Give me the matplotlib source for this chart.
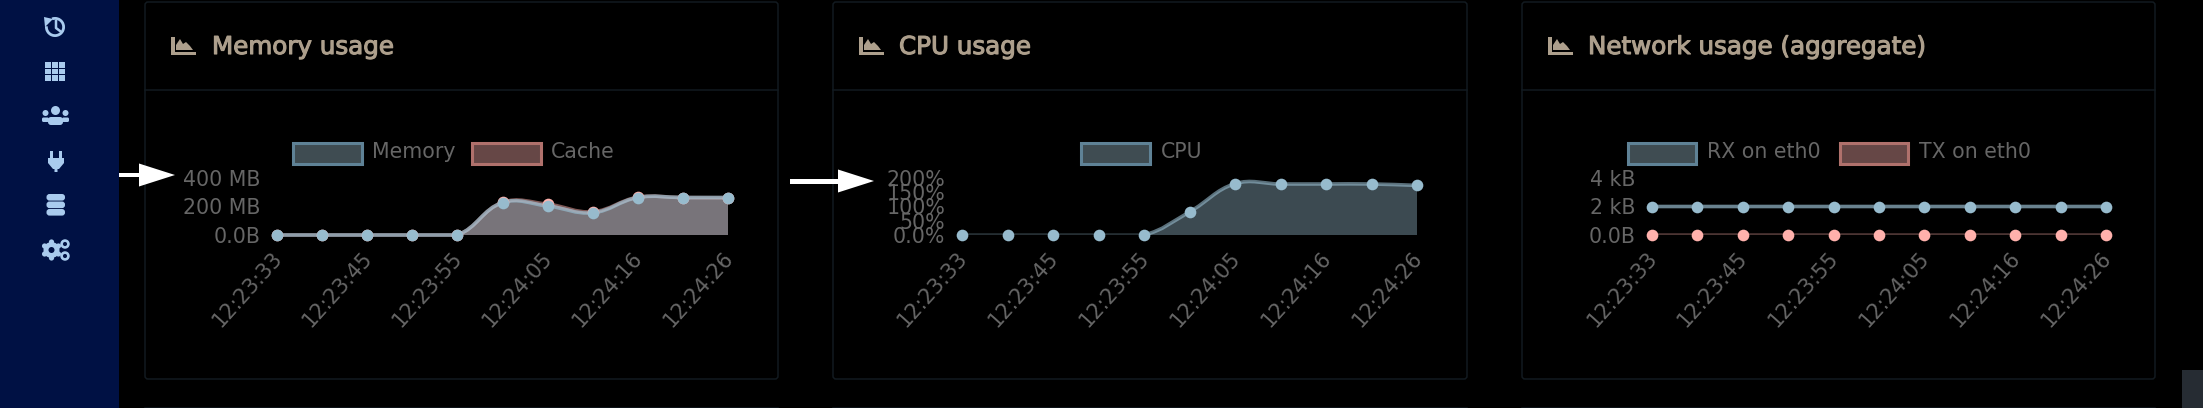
import matplotlib
matplotlib.use('Agg')
import matplotlib.pyplot as plt
import numpy as np
from matplotlib.patches import Circle, FancyBboxPatch, Polygon, Rectangle, Wedge, PathPatch
from matplotlib.path import Path
from matplotlib.transforms import ScaledTranslation
import matplotlib.patheffects as pe

W, H = 2203, 408

x_labels = ['12:23:33', '12:23:45', '12:23:55', '12:24:05', '12:24:16', '12:24:26']

memory = [0, 0, 0, 0, 0, 227, 204, 156, 263, 263, 263]
cache = [0, 0, 0, 0, 0, 229, 216, 163, 265, 263, 262]
cpu = [0, 0, 0, 0, 0, 81, 180, 179, 179, 179, 174]
rx = [2, 2, 2, 2, 2, 2, 2, 2, 2, 2, 2]
tx = [0, 0, 0, 0, 0, 0, 0, 0, 0, 0, 0]

mem_ticks = [0, 200, 400]
mem_ticklabels = ['0.0B', '200 MB', '400 MB']
cpu_ticks = [0, 50, 100, 150, 200]
cpu_ticklabels = ['0.0%', '50%', '100%', '150%', '200%']
net_ticks = [0, 2, 4]
net_ticklabels = ['0.0B', '2 kB', '4 kB']

BLUE = '#97BBCD'
RED = '#FFB1AC'
TEXT = '#666666'
TITLE = '#AD9F8C'
BORDER = '#121A20'
ICON = '#A9CBEE'

plt.rcParams['font.family'] = 'DejaVu Sans'
fig = plt.figure(figsize=(W / 100, H / 100), dpi=100, facecolor='black')

# everything that is not a chart is drawn in plain pixel coordinates
bg = fig.add_axes([0, 0, 1, 1])
bg.set_xlim(0, W)
bg.set_ylim(H, 0)
bg.axis('off')

bg.add_patch(Rectangle((0, 0), 119, H, fc='#001144', ec='none'))
bg.add_patch(Rectangle((2182, 370), 21, 38, fc='#262C33', ec='none'))


def panel(x0, x1, title, title_x, icon_x):
    bg.add_patch(FancyBboxPatch((x0 + 3, 5), x1 - x0 - 6, 371, boxstyle='round,pad=3,rounding_size=3',
                                fc='none', ec=BORDER, lw=1.1))
    bg.plot([x0, x1], [90, 90], color=BORDER, lw=1.1)
    bg.plot([x0, x1], [407.5, 407.5], color=BORDER, lw=1.1)
    t = bg.text(title_x, 54, title, color=TITLE, fontsize=17.7, ha='left', va='baseline')
    t.set_path_effects([pe.withStroke(linewidth=0.8, foreground=TITLE)])
    # area chart icon
    bg.add_patch(Rectangle((icon_x, 37), 3.5, 18, fc=TITLE, ec='none'))
    bg.add_patch(Rectangle((icon_x, 51.5), 25, 3.5, fc=TITLE, ec='none'))
    bg.add_patch(Polygon([(icon_x + 5, 50), (icon_x + 5, 45), (icon_x + 9, 39), (icon_x + 12, 44),
                          (icon_x + 15, 42), (icon_x + 19, 46), (icon_x + 22, 50)], fc=TITLE, ec='none'))


def legend_item(x0, x1, text_x, label, edge, fill):
    bg.add_patch(Rectangle((x0 + 1.5, 142.5), x1 - x0 - 3, 21, fc=fill, ec=edge, lw=2.2))
    bg.text(text_x, 152, label, color=TEXT, fontsize=14.8, ha='left', va='center')


def arrow(x0, x1, x2, y, half, thick):
    bg.add_patch(Rectangle((x0, y - thick / 2), x1 - x0, thick, fc='white', ec='none'))
    bg.add_patch(Polygon([(x1, y - half), (x2, y), (x1, y + half)], fc='white', ec='none'))


def sidebar_icons():
    # history
    bg.add_patch(Wedge((55, 27), 10, 250, 545, width=2.8, fc=ICON, ec='none'))
    bg.add_patch(Polygon([(44, 17), (53, 19), (45, 27)], fc=ICON, ec='none'))
    bg.plot([56, 56, 60], [21, 28, 31], color=ICON, lw=1.8)
    # grid
    for i in range(3):
        for j in range(3):
            bg.add_patch(Rectangle((44.5 + i * 7.3, 62 + j * 6.6), 6.2, 5.5, fc=ICON, ec='none'))
    # users
    bg.add_patch(Circle((55.5, 110.5), 4.5, fc=ICON, ec='none'))
    bg.add_patch(FancyBboxPatch((49, 118), 13, 6, boxstyle='round,pad=1,rounding_size=3', fc=ICON, ec='none'))
    for cx, sx in ((45.5, 42.5), (65.5, 62.5)):
        bg.add_patch(Circle((cx, 113), 3, fc=ICON, ec='none'))
        bg.add_patch(FancyBboxPatch((sx, 118), 6, 3.5, boxstyle='round,pad=0.5,rounding_size=1.5', fc=ICON, ec='none'))
    # plug
    bg.add_patch(Rectangle((50, 151), 3, 8, fc=ICON, ec='none'))
    bg.add_patch(Rectangle((59, 151), 3, 8, fc=ICON, ec='none'))
    bg.add_patch(Polygon([(48, 158), (64, 158), (64, 163), (59, 169), (57.5, 169), (57.5, 172), (54.5, 172),
                          (54.5, 169), (53, 169), (48, 163)], fc=ICON, ec='none'))
    # database
    for cy in (198, 205.5, 213):
        bg.add_patch(FancyBboxPatch((48, cy - 2.5), 15.5, 3.6, boxstyle='round,pad=1.5,rounding_size=3', fc=ICON, ec='none'))
    # gears
    gc = (51.5, 250)
    for a in np.arange(0, 360, 60):
        r = np.deg2rad(a + 30)
        bg.add_patch(Circle((gc[0] + 8 * np.cos(r), gc[1] + 8 * np.sin(r)), 2.6, fc=ICON, ec='none'))
    bg.add_patch(Circle(gc, 8, fc=ICON, ec='none'))
    bg.add_patch(Circle(gc, 3, fc='#001144', ec='none'))
    for c in ((65, 244), (65, 256)):
        bg.add_patch(Circle(c, 3.4, fc='none', ec=ICON, lw=1.9))


def smooth_path(ys, sx, sy):
    # same bezier as chart.js with tension 0.4, control points worked out in pixels
    pts = np.array([[i * sx, v * sy] for i, v in enumerate(ys)], float)
    n = len(pts)
    verts = [pts[0]]
    codes = [Path.MOVETO]
    ctrl = []
    for i in range(n):
        a = pts[max(i - 1, 0)]
        b = pts[i]
        c = pts[min(i + 1, n - 1)]
        d01 = np.hypot(*(b - a))
        d12 = np.hypot(*(c - b))
        total = d01 + d12
        fa = 0.4 * d01 / total
        fb = 0.4 * d12 / total
        ctrl.append((b - fa * (c - a), b + fb * (c - a)))
    for i in range(1, n):
        c1 = ctrl[i - 1][1].copy()
        c2 = ctrl[i][0].copy()
        c1[1] = max(c1[1], 0)
        c2[1] = max(c2[1], 0)
        verts += [c1, c2, pts[i]]
        codes += [Path.CURVE4] * 3
    verts = np.array(verts) / [sx, sy]
    return verts, codes


def draw_series(ax, ys, color, sx, sy, line_alpha, zero_alpha, fill):
    verts, codes = smooth_path(ys, sx, sy)
    if fill:
        v = np.vstack([verts, [verts[-1][0], 0], [0, 0], [0, 0]])
        c = codes + [Path.LINETO, Path.LINETO, Path.CLOSEPOLY]
        ax.add_patch(PathPatch(Path(v, c), fc=color, alpha=0.4, ec='none', zorder=2))
    for i in range(len(ys) - 1):
        seg = verts[i * 3:i * 3 + 4]
        a = zero_alpha if ys[i] == 0 and ys[i + 1] == 0 else line_alpha
        ln = PathPatch(Path(seg, [Path.MOVETO] + [Path.CURVE4] * 3), fc='none', ec=color,
                       alpha=a, lw=2.6, capstyle='butt', zorder=3)
        ax.add_patch(ln)
        # the memory chart keeps its whole line width along the baseline
        if zero_alpha >= 0.5:
            ln.set_clip_on(False)
    ax.plot(range(len(ys)), ys, ls='none', marker='o', ms=8.4, mfc=color, mec='none', zorder=4, clip_on=False)


def chart(x0, x1, ymax, ticks, ticklabels, series, fill=True):
    top, bottom = 178, 235
    ax = fig.add_axes([x0 / W, 1 - bottom / H, (x1 - x0) / W, (bottom - top) / H])
    ax.patch.set_alpha(0)
    for s in ax.spines.values():
        s.set_visible(False)
    ax.set_xlim(0, 10)
    ax.set_ylim(0, ymax)
    ax.set_yticks(ticks)
    ax.set_yticklabels(ticklabels, fontsize=14.8, color=TEXT)
    ax.set_xticks(range(0, 11, 2))
    ax.set_xticklabels(x_labels, fontsize=15, color=TEXT, rotation=48, ha='right', va='top',
                       rotation_mode='anchor')
    ax.tick_params(axis='y', length=0, pad=12)
    ax.tick_params(axis='x', length=0, pad=9)
    # chart.js puts the end of a rotated label a little left of the tick
    # (has to come after tick_params, that resets the label transforms)
    shift = ScaledTranslation(-6 / 100, 0, fig.dpi_scale_trans)
    for lab in ax.get_xticklabels():
        lab.set_transform(lab.get_transform() + shift)
    sx = (x1 - x0) / 10
    sy = (bottom - top) / ymax
    for ys, color, la, za in series:
        draw_series(ax, ys, color, sx, sy, la, za, fill)
    return ax


panel(145, 778, 'Memory usage', 212, 171)
panel(833, 1467, 'CPU usage', 899, 859)
panel(1522, 2155, 'Network usage (aggregate)', 1588, 1548)

legend_item(291, 363, 372, 'Memory', '#5F8296', '#3F4C52')
legend_item(470, 542, 551, 'Cache', '#B0716C', '#664746')
legend_item(1079, 1151, 1161, 'CPU', '#5F8296', '#3F4C52')
legend_item(1626, 1697, 1707, 'RX on eth0', '#5F8296', '#3F4C52')
legend_item(1838, 1909, 1919, 'TX on eth0', '#B0716C', '#664746')

arrow(119, 139, 175, 175, 11.5, 4)
arrow(790, 838, 874, 181, 11.5, 5)
sidebar_icons()

chart(277, 728, 400, mem_ticks, mem_ticklabels,
      [(cache, RED, 0.5, 0.5), (memory, BLUE, 0.7, 0.7)])
chart(962, 1417, 200, cpu_ticks, cpu_ticklabels,
      [(cpu, BLUE, 0.6, 0.25)])
chart(1652, 2106, 4, net_ticks, net_ticklabels,
      [(rx, BLUE, 0.7, 0.7), (tx, RED, 0.3, 0.3)], fill=False)

fig.savefig('out.png', dpi=100, facecolor='black')
